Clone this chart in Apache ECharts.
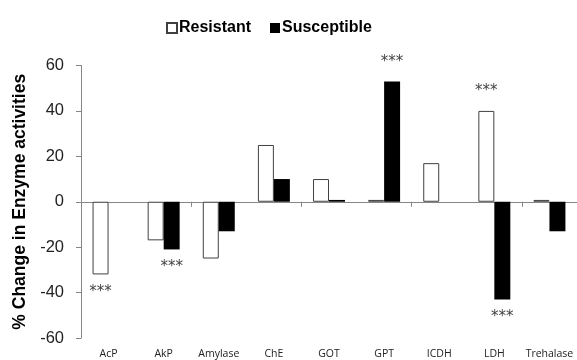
<!DOCTYPE html>
<html><head><meta charset="utf-8">
<script src="https://cdn.jsdelivr.net/npm/echarts@6/dist/echarts.min.js"></script>
<style>html,body{margin:0;padding:0;background:#fff}#c{width:577px;height:360px}</style>
</head><body><div id="c"></div>
<script>
var categories = ['AcP','AkP','Amylase','ChE','GOT','GPT','ICDH','LDH','Trehalase'];
var resistant = [-32, -17, -25, 25, 10, 0.8, 17, 40, 0.8];
var susceptible = [0, -21, -13, 10, 0.8, 53, 0, -43, -13];
var sigResistant = ['***','','','','','','','***',''];
var sigSusceptible = ['','***','','','','***','','***',''];
var yTicks = [-60, -40, -20, 0, 20, 40, 60];

function build(vals, sig) {
  return vals.map(function (v, i) {
    var d = { value: v };
    if (sig[i]) {
      d.label = { show: true, position: v < 0 ? 'bottom' : 'top', distance: v < 0 ? 10 : 12,
        formatter: sig[i], fontFamily: 'DejaVu Sans', fontSize: 15, color: '#444' };
    }
    return d;
  });
}

var chart = echarts.init(document.getElementById('c'));
chart.setOption({
  animation: false,
  backgroundColor: '#fff',
  legend: {
    left: 166, top: 20, padding: 0, itemWidth: 10, itemHeight: 10, itemGap: 19,
    icon: 'rect',
    textStyle: { fontFamily: 'Liberation Sans', fontWeight: 'bold', fontSize: 16, color: '#000', padding: [0,0,0,-3] },
    data: ['Resistant', 'Susceptible']
  },
  grid: { left: 81, top: 65.5, width: 500, height: 272.5 },
  xAxis: [{
    type: 'category', data: categories,
    axisLine: { onZero: true, lineStyle: { color: '#868686', width: 1 } },
    axisTick: { show: true, length: 5, lineStyle: { color: '#868686' } },
    axisLabel: { show: false }
  }, {
    type: 'category', data: categories, position: 'bottom',
    axisLine: { show: false, onZero: false }, axisTick: { show: false },
    axisLabel: { show: true, margin: 11, fontFamily: 'Open Sans', fontSize: 10.5, color: '#222', interval: 0 }
  }],
  yAxis: {
    type: 'value', min: yTicks[0], max: yTicks[yTicks.length - 1], interval: 20,
    name: '% Change in Enzyme activities', nameLocation: 'middle', nameGap: 51,
    nameTextStyle: { fontFamily: 'Liberation Sans', fontWeight: 'bold', fontSize: 17.5, color: '#000' },
    axisLine: { show: true, lineStyle: { color: '#868686' } },
    axisTick: { show: true, length: 5, lineStyle: { color: '#868686' } },
    splitLine: { show: false },
    axisLabel: { fontFamily: 'Liberation Sans', fontSize: 16.5, color: '#222', margin: 17 }
  },
  series: [{
    name: 'Resistant', type: 'bar', xAxisIndex: 0, barGap: '0%', barCategoryGap: '42%',
    itemStyle: { color: '#fff', borderColor: '#404040', borderWidth: 1 },
    data: build(resistant, sigResistant)
  }, {
    name: 'Susceptible', type: 'bar', xAxisIndex: 0,
    itemStyle: { color: '#000' },
    data: build(susceptible, sigSusceptible)
  }]
});
</script></body></html>
